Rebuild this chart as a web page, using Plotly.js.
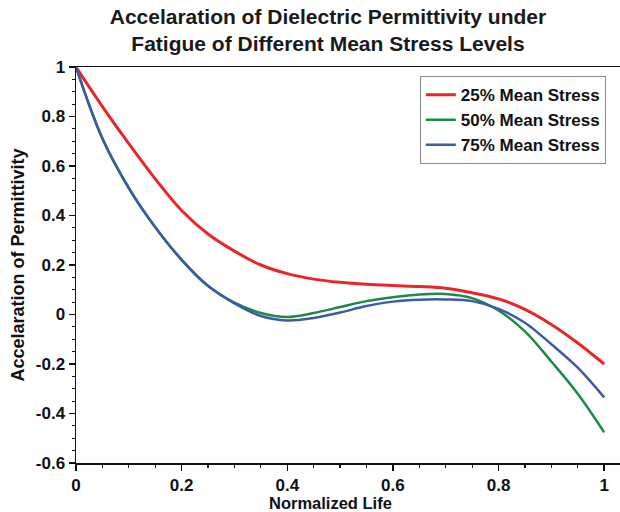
<!DOCTYPE html>
<html>
<head>
<meta charset="utf-8">
<script src="https://cdn.plot.ly/plotly-3.0.1.min.js"></script>
<style>
  html, body { margin: 0; padding: 0; background: #fff; }
  #chart { width: 620px; height: 512px; }
</style>
</head>
<body>
<div id="chart"></div>
<script>
// Normalized life sample points
const life = [0, 0.05, 0.1, 0.15, 0.2, 0.25, 0.3, 0.35, 0.4, 0.45, 0.5,
              0.55, 0.6, 0.65, 0.7, 0.75, 0.8, 0.85, 0.9, 0.95, 1.0];

// Acceleration of permittivity for each mean stress level
const stress25 = [1.0, 0.84, 0.69, 0.548, 0.42, 0.325, 0.256, 0.2, 0.165, 0.143, 0.13,
                  0.122, 0.117, 0.113, 0.106, 0.088, 0.063, 0.021, -0.04, -0.115, -0.2];
const stress50 = [1.0, 0.71, 0.51, 0.352, 0.22, 0.115, 0.048, 0.006, -0.01, 0.006, 0.03,
                  0.054, 0.07, 0.081, 0.083, 0.066, 0.016, -0.068, -0.19, -0.32, -0.476];
const stress75 = [1.0, 0.712, 0.512, 0.354, 0.222, 0.116, 0.045, -0.006, -0.024, -0.014, 0.008,
                  0.034, 0.052, 0.06, 0.061, 0.054, 0.023, -0.033, -0.12, -0.215, -0.335];

const seriesNames = ['25% Mean Stress', '50% Mean Stress', '75% Mean Stress'];
const seriesColors = ['#e8262a', '#1c8a45', '#3c5aa6'];

const xTickVals = [0, 0.2, 0.4, 0.6, 0.8, 1];
const xTickText = ['0', '0.2', '0.4', '0.6', '0.8', '1'];
const yTickVals = [1, 0.8, 0.6, 0.4, 0.2, 0, -0.2, -0.4, -0.6];
const yTickText = ['1', '0.8', '0.6', '0.4', '0.2', '0', '-0.2', '-0.4', '-0.6'];

const font = 'Liberation Sans, Arial, sans-serif';

const traces = [stress25, stress50, stress75].map((ys, i) => ({
  x: life,
  y: ys,
  type: 'scatter',
  mode: 'lines',
  name: seriesNames[i],
  line: { color: seriesColors[i], width: i === 0 ? 3 : 2.5, shape: 'spline', smoothing: 1 }
}));

const axisCommon = {
  showgrid: false,
  zeroline: false,
  showline: true,
  linecolor: '#111',
  linewidth: 1.5,
  ticks: 'outside',
  ticklen: 6,
  tickwidth: 1.5,
  tickcolor: '#111',
  tickmode: 'array',
  tickfont: { family: font, size: 17, color: '#111', weight: 'bold' },
  minor: { dtick: 0.05, ticks: 'outside', ticklen: 3, tickwidth: 1.2, tickcolor: '#111' }
};

const layout = {
  width: 620,
  height: 512,
  paper_bgcolor: '#fff',
  plot_bgcolor: '#fff',
  margin: { l: 76, r: 0, t: 67, b: 49 },
  title: {
    text: 'Accelaration of Dielectric Permittivity under<br>Fatigue of Different Mean Stress Levels',
    font: { family: font, size: 21, color: '#1a1a1a', weight: 'bold' },
    x: 0.529,
    xref: 'container',
    xanchor: 'center',
    y: 0.953,
    yanchor: 'top'
  },
  xaxis: Object.assign({}, axisCommon, {
    range: [0, 1.03],
    tickvals: xTickVals,
    ticktext: xTickText,
    mirror: true
  }),
  yaxis: Object.assign({}, axisCommon, {
    range: [-0.6, 1],
    tickvals: yTickVals,
    ticktext: yTickText,
    title: { text: 'Accelaration of Permittivity', font: { family: font, size: 18, color: '#111', weight: 'bold' }, standoff: 6 }
  }),
  // x-axis title, centred under the 0–1 span of the axis
  annotations: [{
    text: 'Normalized Life',
    xref: 'paper',
    yref: 'paper',
    x: 0.467,
    y: 0,
    yshift: -40,
    xanchor: 'center',
    yanchor: 'middle',
    showarrow: false,
    font: { family: font, size: 16.5, color: '#111', weight: 'bold' }
  }],
  legend: {
    x: 0.632,
    y: 0.977,
    xanchor: 'left',
    yanchor: 'top',
    bgcolor: '#fff',
    bordercolor: '#888',
    borderwidth: 1,
    font: { family: font, size: 17, color: '#111', weight: 'bold' },
    tracegroupgap: 0,
    itemwidth: 30
  },
  showlegend: true
};

Plotly.newPlot('chart', traces, layout, { displayModeBar: false, staticPlot: true });
</script>
</body>
</html>
